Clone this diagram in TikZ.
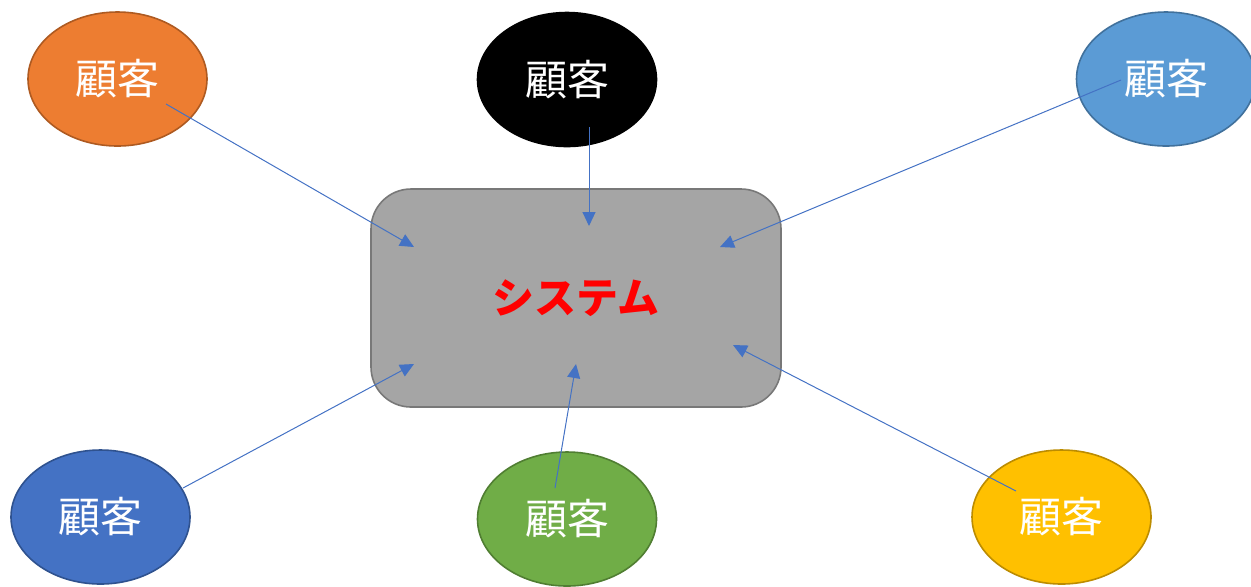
\documentclass[tikz,border=0pt]{standalone}
\usepackage{fontspec}
\setmainfont{Noto Sans CJK JP}
\usepackage{xcolor}
\usetikzlibrary{shapes.geometric}
\usetikzlibrary{arrows.meta}
\definecolor{kOrange}{HTML}{ED7D31}
\definecolor{kOrangeB}{HTML}{AE5A21}
\definecolor{kSky}{HTML}{5B9BD5}
\definecolor{kSkyB}{HTML}{41719C}
\definecolor{kBlue}{HTML}{4472C4}
\definecolor{kBlueB}{HTML}{2F528F}
\definecolor{kGreen}{HTML}{70AD47}
\definecolor{kGreenB}{HTML}{507E32}
\definecolor{kGold}{HTML}{FFC000}
\definecolor{kGoldB}{HTML}{BC8C00}
\definecolor{kGray}{HTML}{A5A5A5}
\definecolor{kGrayB}{HTML}{787878}

\begin{document}
\begin{tikzpicture}[x=0.5pt,y=-0.5pt,
	kokyaku/.style={ellipse,minimum width=89.5pt,minimum height=67pt,inner sep=0pt,line width=0.8pt,text=white,font=\fontsize{21pt}{21pt}\selectfont},
	link/.style={draw=kBlue,line width=0.5pt,-{Triangle[length=7pt,width=6.5pt]}}]

	% customers around the system
	\useasboundingbox (0,0) rectangle (1251,586);
	\node[draw=kGrayB,fill=kGray,line width=0.8pt,rounded corners=20pt,minimum width=205pt,minimum height=109pt,text=red,font=\fontsize{21pt}{21pt}\selectfont\bfseries] (sys) at (576,298) {システム};
\node[kokyaku,fill=kOrange,draw=kOrangeB] (cust1) at (117.5,79) {顧客};
\node[kokyaku,fill=black,draw=black] (cust2) at (567,79.5) {顧客};
\node[kokyaku,fill=kSky,draw=kSkyB] (cust3) at (1166,79) {顧客};
\node[kokyaku,fill=kBlue,draw=kBlueB] (cust4) at (100.5,517) {顧客};
\node[kokyaku,fill=kGreen,draw=kGreenB] (cust5) at (567,519) {顧客};
\node[kokyaku,fill=kGold,draw=kGoldB] (cust6) at (1061.5,517) {顧客};
\coordinate (in1) at (414,247);
\coordinate (in2) at (589,226);
\coordinate (in3) at (720,247);
\coordinate (in4) at (414,364);
\coordinate (in5) at (576,364);
\coordinate (in6) at (733,345);
\draw[link] ([shift={(48.5,25)}]cust1.center) -- (in1);
\draw[link] ([shift={(22,47.5)}]cust2.center) -- (in2);
\draw[link] ([shift={(-45,1)}]cust3.center) -- (in3);
\draw[link] ([shift={(82.5,-29)}]cust4.center) -- (in4);
\draw[link] ([shift={(-12,-31)}]cust5.center) -- (in5);
\draw[link] ([shift={(-45.5,-26)}]cust6.center) -- (in6);

\end{tikzpicture}
\end{document}
